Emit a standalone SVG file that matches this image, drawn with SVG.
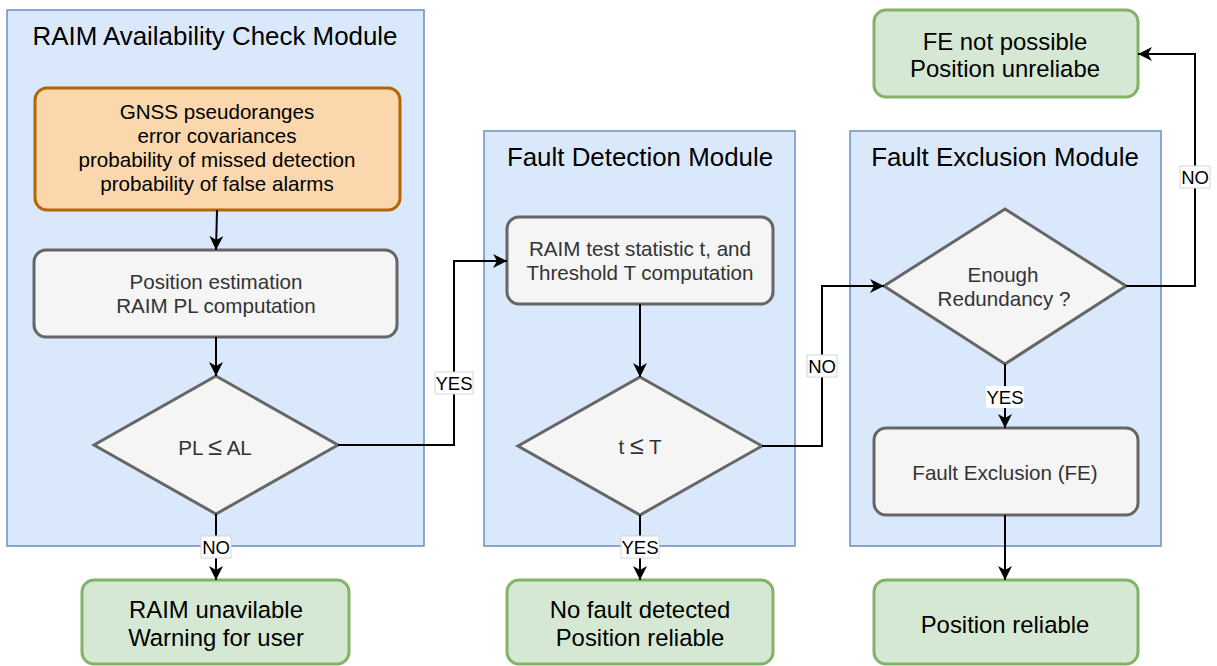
<svg xmlns="http://www.w3.org/2000/svg" width="1217" height="666" viewBox="0 0 1217 666">
  <style>
    .module { fill: #dae8fc; stroke: #6c8ebf; stroke-width: 1.5; }
    .orange { fill: #fad7ac; stroke: #b46504; stroke-width: 3; }
    .gray { fill: #f5f5f5; stroke: #666666; stroke-width: 3; }
    .green { fill: #d5e8d4; stroke: #82b366; stroke-width: 3; }
    text { font-family: "Liberation Sans", Arial, Helvetica, sans-serif; text-anchor: middle; }
    .title { font-size: 25.9px; fill: #000; }
    .inner { font-size: 20.6px; fill: #333333; }
    .innerblack { font-size: 20.6px; fill: #000; }
    .big { font-size: 23.9px; fill: #000; }
    .lbl { font-size: 18.5px; fill: #000; }
    .lblbox { fill: #ffffff; stroke: #d6d6d6; stroke-width: 1; }
    .edge { fill: none; stroke: #000; stroke-width: 2; }
    .le { font-size: 25px; }
  </style>
  <defs>
    <marker id="arrow" viewBox="0 0 14 14" refX="14" refY="7" markerWidth="14" markerHeight="14" markerUnits="userSpaceOnUse" orient="auto">
      <path d="M0,0 L14,7 L0,14 L4,7 Z" fill="#000"/>
    </marker>
  </defs>

  <!-- Modules -->
  <g id="module-availability">
    <rect class="module" x="7" y="10" width="417" height="536"/>
    <text class="title" x="215" y="45">RAIM Availability Check Module</text>
  </g>
  <g id="module-detection">
    <rect class="module" x="484" y="131" width="311" height="415"/>
    <text class="title" x="640" y="166">Fault Detection Module</text>
  </g>
  <g id="module-exclusion">
    <rect class="module" x="850" y="131" width="311" height="415"/>
    <text class="title" x="1005" y="166">Fault Exclusion Module</text>
  </g>

  <!-- Nodes -->
  <g id="inputs">
    <rect class="orange" x="35" y="88" width="365" height="122" rx="12"/>
    <text class="innerblack" x="217" y="119">GNSS pseudoranges</text>
    <text class="innerblack" x="217" y="143">error covariances</text>
    <text class="innerblack" x="217" y="167">probability of missed detection</text>
    <text class="innerblack" x="217" y="191">probability of false alarms</text>
  </g>
  <g id="position-estimation">
    <rect class="gray" x="34" y="250" width="363" height="87" rx="12"/>
    <text class="inner" x="216" y="289">Position estimation</text>
    <text class="inner" x="216" y="313">RAIM PL computation</text>
  </g>
  <g id="pl-check">
    <polygon class="gray" points="216,376 338,445 216,514 94,445"/>
    <text class="inner" x="215" y="455">PL <tspan class="le">≤</tspan> AL</text>
  </g>
  <g id="raim-unavailable">
    <rect class="green" x="82" y="580" width="267" height="84" rx="12"/>
    <text class="big" x="216" y="618">RAIM unavilable</text>
    <text class="big" x="216" y="646">Warning for user</text>
  </g>
  <g id="test-statistic">
    <rect class="gray" x="507" y="217" width="266" height="87" rx="12"/>
    <text class="inner" x="640" y="256">RAIM test statistic t, and</text>
    <text class="inner" x="640" y="280">Threshold T computation</text>
  </g>
  <g id="t-check">
    <polygon class="gray" points="640,377 762,446 640,515 518,446"/>
    <text class="inner" x="640" y="454">t <tspan class="le">≤</tspan> T</text>
  </g>
  <g id="no-fault">
    <rect class="green" x="507" y="580" width="266" height="84" rx="12"/>
    <text class="big" x="640" y="618">No fault detected</text>
    <text class="big" x="640" y="646">Position reliable</text>
  </g>
  <g id="redundancy-check">
    <polygon class="gray" points="1005,209 1126,286 1005,364 884,286"/>
    <text class="inner" x="1003" y="282">Enough</text>
    <text class="inner" x="1004" y="306">Redundancy ?</text>
  </g>
  <g id="fault-exclusion">
    <rect class="gray" x="874" y="428" width="264" height="87" rx="12"/>
    <text class="inner" x="1005" y="480">Fault Exclusion (FE)</text>
  </g>
  <g id="position-reliable">
    <rect class="green" x="874" y="580" width="264" height="84" rx="12"/>
    <text class="big" x="1005" y="633">Position reliable</text>
  </g>
  <g id="fe-not-possible">
    <rect class="green" x="874" y="10" width="264" height="87" rx="12"/>
    <text class="big" x="1005" y="50">FE not possible</text>
    <text class="big" x="1005" y="77">Position unreliabe</text>
  </g>

  <!-- Connectors -->
  <g id="connectors">
    <path class="edge" d="M217,210 L216,250" marker-end="url(#arrow)"/>
    <path class="edge" d="M216,337 L216,376" marker-end="url(#arrow)"/>
    <path class="edge" d="M216,514 L216,580" marker-end="url(#arrow)"/>
    <path class="edge" d="M338,445 L454,445 L454,261 L507,261" marker-end="url(#arrow)"/>
    <path class="edge" d="M640,304 L640,377" marker-end="url(#arrow)"/>
    <path class="edge" d="M640,515 L640,580" marker-end="url(#arrow)"/>
    <path class="edge" d="M762,446 L822,446 L822,286 L884,286" marker-end="url(#arrow)"/>
    <path class="edge" d="M1005,364 L1005,428" marker-end="url(#arrow)"/>
    <path class="edge" d="M1005,515 L1005,580" marker-end="url(#arrow)"/>
    <path class="edge" d="M1126,286 L1195,286 L1195,54 L1138,54" marker-end="url(#arrow)"/>

    <g id="label-yes-1">
      <rect class="lblbox" x="435" y="372" width="38" height="22"/>
      <text class="lbl" x="454" y="390">YES</text>
    </g>
    <g id="label-no-1">
      <rect class="lblbox" x="201" y="536" width="30" height="22"/>
      <text class="lbl" x="216" y="554">NO</text>
    </g>
    <g id="label-yes-2">
      <rect class="lblbox" x="621" y="536" width="38" height="22"/>
      <text class="lbl" x="640" y="554">YES</text>
    </g>
    <g id="label-no-2">
      <rect class="lblbox" x="807" y="355" width="30" height="22"/>
      <text class="lbl" x="822" y="373">NO</text>
    </g>
    <g id="label-yes-3">
      <rect class="lblbox" x="986" y="386" width="38" height="22" style="stroke:none"/>
      <text class="lbl" x="1005" y="404">YES</text>
    </g>
    <g id="label-no-3">
      <rect class="lblbox" x="1180" y="166" width="30" height="22"/>
      <text class="lbl" x="1195" y="184">NO</text>
    </g>
  </g>
</svg>
